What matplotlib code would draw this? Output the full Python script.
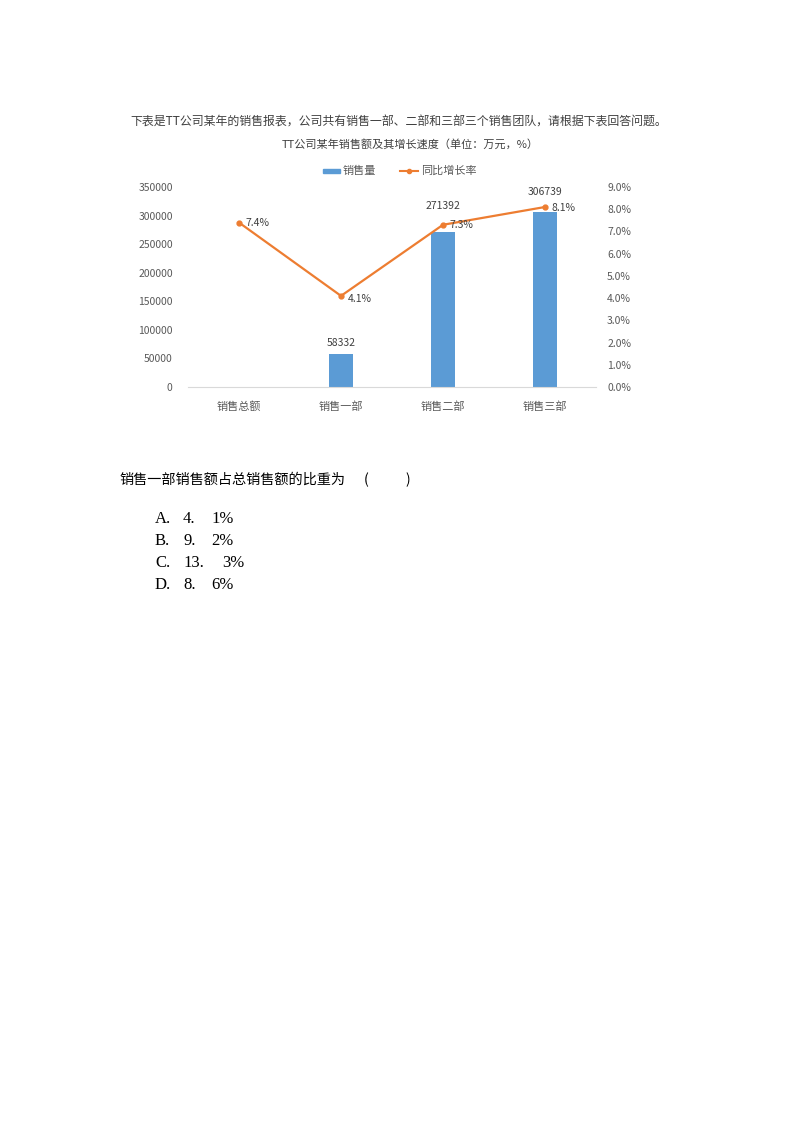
import matplotlib
matplotlib.use('Agg')
import matplotlib.pyplot as plt
import numpy as np

plt.rcParams['font.family'] = ['Noto Sans CJK SC', 'DejaVu Sans']

# data
categories = ['销售总额', '销售一部', '销售二部', '销售三部']
sales = [np.nan, 58332, 271392, 306739]          # 万元, total bar not shown
growth = [7.4, 4.1, 7.3, 8.1]                    # %
left_ticks = [0, 50000, 100000, 150000, 200000, 250000, 300000, 350000]
right_ticks = [0, 1, 2, 3, 4, 5, 6, 7, 8, 9]

intro = '下表是TT公司某年的销售报表，公司共有销售一部、二部和三部三个销售团队，请根据下表回答问题。'
title = 'TT公司某年销售额及其增长速度（单位：万元，%）'
question = '销售一部销售额占总销售额的比重为'
options = [('A.', '4.', '1%'), ('B.', '9.', '2%'), ('C.', '13.', '3%'), ('D.', '8.', '6%')]

W, H = 800, 1132
bar_color = '#5B9BD5'
line_color = '#ED7D31'
tick_color = '#595959'


def px(x, y):
    return x / W, 1 - y / H


fig = plt.figure(figsize=(W / 100, H / 100), dpi=100)
ax = fig.add_axes([188 / W, 1 - 387 / H, 408 / W, 200 / H])
ax2 = ax.twinx()

x = np.arange(len(categories))
ax.bar(x, sales, width=0.24, color=bar_color, zorder=2)
ax2.plot(x, growth, '-o', color=line_color, lw=1.6, ms=3.5, zorder=3)

ax.set_xlim(-0.5, len(categories) - 0.5)
ax.set_ylim(0, 350000)
ax2.set_ylim(0, 9)
ax.set_yticks(left_ticks)
ax.set_yticklabels([str(v) for v in left_ticks])
ax2.set_yticks(right_ticks)
ax2.set_yticklabels(['%.1f%%' % v for v in right_ticks])
ax.set_xticks(x)
ax.set_xticklabels(categories)

for a in (ax, ax2):
    for s in ['top', 'left', 'right']:
        a.spines[s].set_visible(False)
    a.spines['bottom'].set_color('#d9d9d9')
    a.spines['bottom'].set_linewidth(0.8)
ax2.spines['bottom'].set_visible(False)

ax.tick_params(axis='y', length=0, pad=11, labelsize=7.5, labelcolor=tick_color)
ax.tick_params(axis='x', length=0, pad=10, labelsize=8, labelcolor=tick_color)
ax2.tick_params(axis='y', length=0, pad=8, labelsize=7.5, labelcolor=tick_color)

# bar value labels (offsets in points, placed as in the source)
bar_offsets = [0, 8, 19, 14]
for i, v in enumerate(sales):
    if np.isnan(v):
        continue
    ax.annotate(str(v), (x[i], v), xytext=(0, bar_offsets[i]), textcoords='offset points',
                ha='center', va='center', fontsize=7.5, color='#404040')

line_offsets = [(5, 0), (5, -2), (5, 0), (5, -1)]
for i, v in enumerate(growth):
    ax2.annotate('%.1f%%' % v, (x[i], v), xytext=line_offsets[i], textcoords='offset points',
                 ha='left', va='center', fontsize=7.5, color='#404040')

# legend drawn by hand to get the flat Excel look
fig.patches.append(plt.Rectangle(px(323, 173), 17 / W, 4 / H, transform=fig.transFigure,
                                 color=bar_color, figure=fig))
fig.text(*px(343, 171), '销售量', fontsize=8, color=tick_color, va='center')
fig.add_artist(plt.Line2D([400 / W, 418 / W], [1 - 171 / H] * 2, color=line_color, lw=1.5))
fig.add_artist(plt.Line2D([409 / W], [1 - 171 / H], color=line_color, marker='o', ms=3))
fig.text(*px(421, 171), '同比增长率', fontsize=8, color=tick_color, va='center')

fig.text(*px(399, 122), intro, fontsize=8.6, color='#404040', ha='center', va='center')
fig.text(*px(410, 144), title, fontsize=8, color='#404040', ha='center', va='center')

fig.text(*px(119, 480), question, fontsize=10.2, color='black', va='center')
fig.text(*px(364, 480), '(', fontsize=10.2, color='black', va='center')
fig.text(*px(405, 480), ')', fontsize=10.2, color='black', va='center')

row_y = [519, 541, 563, 585]
for (a, b, c), yy in zip(options, row_y):
    fig.text(*px(155, yy), a, family='Liberation Serif', fontsize=12, va='center')
    fig.text(*px(183, yy), b, family='Liberation Serif', fontsize=12, va='center')
    fig.text(*px(222 if len(b) > 2 else 211, yy), c, family='Liberation Serif', fontsize=12,
             va='center')

fig.savefig('out.png', dpi=100)
